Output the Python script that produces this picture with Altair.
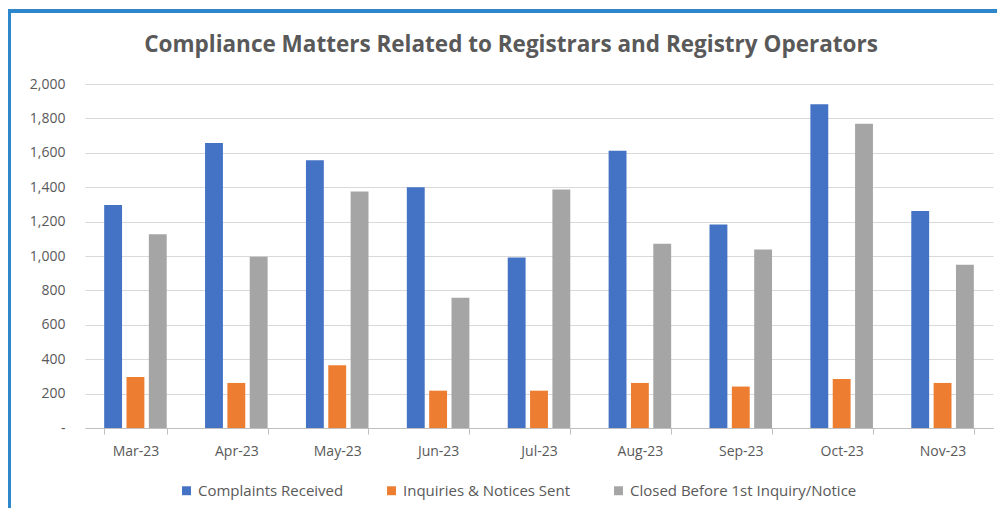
import altair as alt
import pandas as pd

months = ["Mar-23", "Apr-23", "May-23", "Jun-23", "Jul-23", "Aug-23", "Sep-23", "Oct-23", "Nov-23"]
series = ["Complaints Received", "Inquiries & Notices Sent", "Closed Before 1st Inquiry/Notice"]
complaints = [1296, 1657, 1556, 1399, 991, 1612, 1183, 1882, 1261]
inquiries = [297, 262, 365, 217, 217, 262, 241, 285, 262]
closed = [1127, 995, 1375, 757, 1387, 1071, 1038, 1769, 949]
colors = ["#4472C4", "#ED7D31", "#A5A5A5"]

rows = []
for i, m in enumerate(months):
    for s, vals in zip(series, [complaints, inquiries, closed]):
        rows.append({"Month": m, "Series": s, "Value": vals[i]})
df = pd.DataFrame(rows)

FONT = "Open Sans"
TXT = "#595959"

bars = alt.Chart(df).mark_bar().encode(
    x=alt.X("Month:N", sort=months, title=None,
            scale=alt.Scale(paddingInner=0.38, paddingOuter=0.19),
            axis=alt.Axis(labelAngle=0, tickBand="extent", tickSize=6, tickColor="#BFBFBF",
                          domainColor="#BFBFBF", labelColor=TXT, labelFontSize=14,
                          labelFont=FONT, labelPadding=10, grid=False)),
    xOffset=alt.XOffset("Series:N", sort=series, scale=alt.Scale(paddingInner=0.2)),
    y=alt.Y("Value:Q", title=None,
            scale=alt.Scale(domain=[0, 2000]),
            axis=alt.Axis(values=list(range(0, 2001, 200)), domain=False, ticks=False,
                          labelExpr="datum.value == 0 ? '-' : format(datum.value, ',')",
                          labelColor=TXT, labelFontSize=14, labelFont=FONT, labelPadding=20,
                          gridColor="#D9D9D9", gridWidth=1)),
    color=alt.Color("Series:N", sort=series, scale=alt.Scale(domain=series, range=colors),
                    legend=alt.Legend(title=None, orient="none", direction="horizontal",
                                      legendX=94, legendY=399, symbolType="square",
                                      symbolSize=80, symbolStrokeWidth=0,
                                      labelFontSize=15, labelFont=FONT, labelColor=TXT,
                                      labelLimit=400, columnPadding=40, labelOffset=4)),
)

border_left = alt.Chart(df).mark_rule(color="#2E86CB", strokeWidth=4).encode(
    x=alt.value(-76), y=alt.value(-75), y2=alt.value(600))
border_top = alt.Chart(df).mark_rule(color="#2E86CB", strokeWidth=4).encode(
    x=alt.value(-78), x2=alt.value(1000), y=alt.value(-73))

chart = alt.layer(bars, border_left, border_top).properties(
    width=908, height=344,
    autosize=alt.AutoSizeParams(type="none"),
    padding={"left": 77, "top": 76, "right": 4, "bottom": 80},
    title=alt.TitleParams("Compliance Matters Related to Registrars and Registry Operators",
                          font=FONT, fontSize=22.5, fontWeight="bold", color=TXT,
                          anchor="middle", offset=0, dy=49, dx=-28),
).configure_view(stroke=None)

chart.save("out.html", embed_options={"renderer": "svg", "actions": False})
